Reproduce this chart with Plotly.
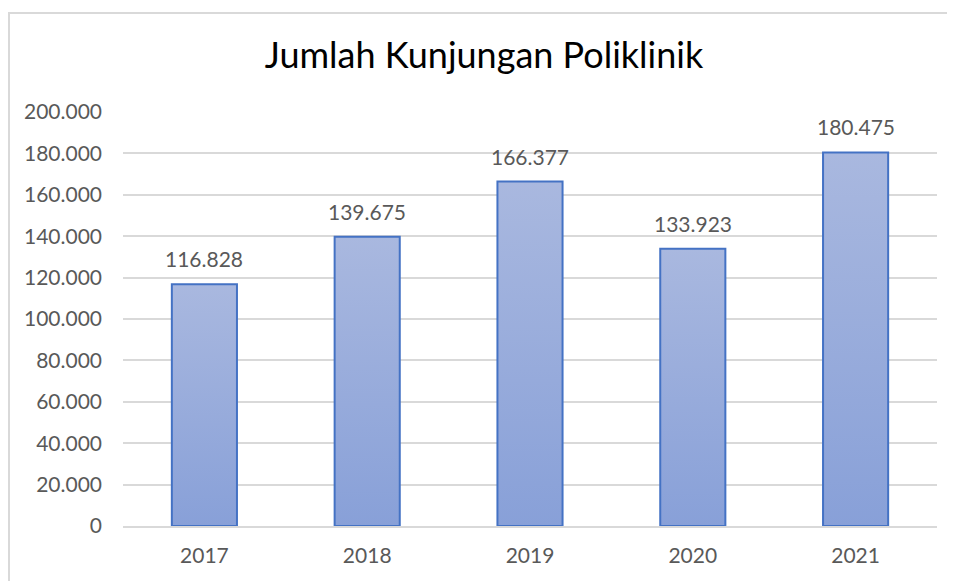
import plotly.graph_objects as go

years = ["2017", "2018", "2019", "2020", "2021"]
visits = [116828, 139675, 166377, 133923, 180475]
y_ticks = [0, 20000, 40000, 60000, 80000, 100000, 120000, 140000, 160000, 180000, 200000]
y_tick_labels = ["0", "20.000", "40.000", "60.000", "80.000", "100.000", "120.000",
                 "140.000", "160.000", "180.000", "200.000"]
value_labels = ["116.828", "139.675", "166.377", "133.923", "180.475"]

BAR_W = 0.4
FONT = "Lato, 'Open Sans', sans-serif"
GRAY = "#595959"

W, H = 947, 573  # page adds an 8px body margin
ML, MR, MT, MB = 115, 18, 104, 55

fig = go.Figure()
for i, v in enumerate(visits):
    x0, x1 = i - BAR_W / 2, i + BAR_W / 2
    fig.add_trace(go.Scatter(
        x=[x0, x0, x1, x1, x0], y=[0, v, v, 0, 0],
        mode="lines", fill="toself",
        fillgradient=dict(type="vertical", start=0, stop=v,
                          colorscale=[[0, "#88A0D8"], [1, "#A9B8DF"]]),
        line=dict(color="#4472C4", width=2),
        hoverinfo="skip", showlegend=False,
    ))

for i, (v, t) in enumerate(zip(visits, value_labels)):
    fig.add_annotation(x=i, y=v, text=t, showarrow=False, yanchor="bottom",
                       yshift=11, font=dict(family=FONT, size=21, color=GRAY))

pw = W - ML - MR
ph = H - MT - MB
fig.add_shape(type="rect", xref="paper", yref="paper",
              x0=(1 - ML) / pw, x1=1.2, y0=-0.3, y1=(H - MB - 5) / ph,
              line=dict(color="#D9D9D9", width=2), fillcolor="rgba(0,0,0,0)", layer="below")

fig.update_layout(
    width=W, height=H,
    margin=dict(l=ML, r=MR, t=MT, b=MB),
    paper_bgcolor="white", plot_bgcolor="white",
    title=dict(text="Jumlah Kunjungan Poliklinik", x=476 / W, xref="container", xanchor="center",
               y=1 - 47 / H, yref="container", yanchor="middle",
               font=dict(family=FONT, size=36, color="black")),
    showlegend=False,
)
fig.update_xaxes(range=[-0.5, 4.5], tickvals=list(range(len(years))), ticktext=years,
                 showgrid=False, zeroline=False, showline=True, linecolor="#D9D9D9", linewidth=2,
                 ticks="", ticklabelstandoff=10,
                 tickfont=dict(family=FONT, size=21, color=GRAY))
fig.update_yaxes(range=[0, 200000], tickvals=y_ticks, ticktext=y_tick_labels,
                 showgrid=True, gridcolor="#D9D9D9", gridwidth=2, zeroline=False,
                 showline=False, ticks="", ticklabelstandoff=20,
                 tickfont=dict(family=FONT, size=21, color=GRAY))

fig.write_html("out.html")
